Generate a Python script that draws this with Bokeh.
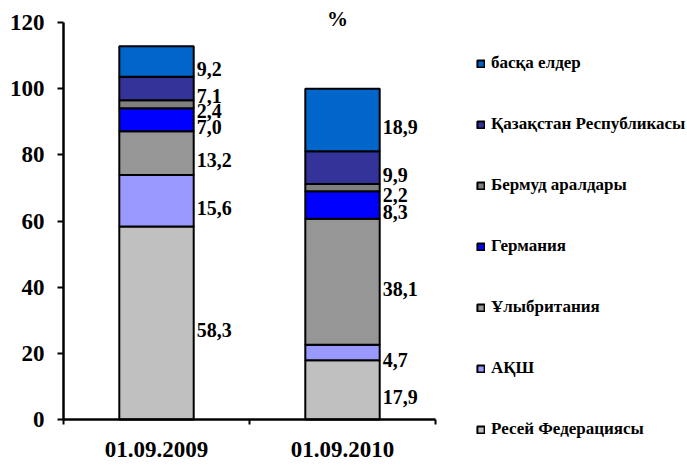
from bokeh.plotting import figure
from bokeh.models import (ColumnDataSource, Range1d, FixedTicker, Legend, LegendItem, Label)
from bokeh.embed import file_html
from bokeh.resources import INLINE

categories = ["01.09.2009", "01.09.2010"]
series = ["Ресей Федерациясы", "АҚШ", "Ұлыбритания", "Германия",
          "Бермуд аралдары", "Қазақстан Республикасы", "басқа елдер"]
values = {
    "Ресей Федерациясы": [58.3, 17.9],
    "АҚШ": [15.6, 4.7],
    "Ұлыбритания": [13.2, 38.1],
    "Германия": [7.0, 8.3],
    "Бермуд аралдары": [2.4, 2.2],
    "Қазақстан Республикасы": [7.1, 9.9],
    "басқа елдер": [9.2, 18.9],
}
colors = ["#C0C0C0", "#9999FF", "#969696", "#0000FF", "#808080", "#333399", "#0066CC"]
y_ticks = [0, 20, 40, 60, 80, 100, 120]
title_text = "%"

FONT = "Liberation Serif"
BAR_W = 0.4
W, H = 687, 465
X0_PX, CAT_PX = 63, 186          # pixel of x=0 and pixels per category
Y0_PX, PX_PER_UNIT = 419, 397 / 120  # pixel of y=0 and pixels per unit
Y_MAX = 120

xs = [i + 0.5 for i in range(len(categories))]
data = {"x": xs}
keys = [f"s{i}" for i in range(len(series))]
for k, s in zip(keys, series):
    data[k] = values[s]
source = ColumnDataSource(data)

p = figure(width=W, height=H, output_backend="svg", toolbar_location=None,
           x_range=Range1d(-X0_PX / CAT_PX, (W - X0_PX) / CAT_PX),
           y_range=Range1d(-(H - Y0_PX) / PX_PER_UNIT, Y0_PX / PX_PER_UNIT),
           min_border=0)
p.outline_line_color = None
p.xgrid.visible = False
p.ygrid.visible = False
p.background_fill_color = "white"

renderers = p.vbar_stack(keys, x="x", width=BAR_W, color=colors,
                         line_color="black", line_width=2, source=source)

# data labels
lx, ly, lt = [], [], []
for ci, x in enumerate(xs):
    base = 0.0
    for s in series:
        v = values[s][ci]
        lx.append(x + BAR_W / 2)
        ly.append(base + v / 2)
        lt.append(f"{v:.1f}".replace(".", ","))
        base += v
lab_src = ColumnDataSource(dict(x=lx, y=ly, t=lt))
p.text(x="x", y="y", text="t", source=lab_src, x_offset=3, y_offset=7,
       text_align="left", text_baseline="middle", text_font=FONT,
       text_font_style="bold", text_font_size="20px", text_color="black")

# axes
xa = p.xaxis[0]
xa.fixed_location = 0
xa.bounds = (0, len(categories))
xa.ticker = FixedTicker(ticks=xs, minor_ticks=list(range(len(categories) + 1)))
xa.major_label_overrides = {x: c for x, c in zip(xs, categories)}
xa.major_tick_out = 0
xa.major_tick_in = 0
xa.minor_tick_out = 5
xa.minor_tick_in = 0
xa.minor_tick_line_color = "black"
xa.minor_tick_line_width = 2
xa.axis_line_width = 2.5
xa.axis_line_color = "black"
xa.major_label_standoff = 17
xa.major_label_text_font = FONT
xa.major_label_text_font_style = "bold"
xa.major_label_text_font_size = "23px"
xa.major_label_text_color = "black"

ya = p.yaxis[0]
ya.fixed_location = 0
ya.ticker = FixedTicker(ticks=y_ticks)
ya.bounds = (0, Y_MAX)
ya.major_tick_out = 6
ya.major_tick_in = 0
ya.minor_tick_out = 0
ya.minor_tick_in = 0
ya.major_tick_line_width = 2
ya.major_tick_line_color = "black"
ya.axis_line_width = 2.5
ya.axis_line_color = "black"
ya.major_label_standoff = 13
ya.major_label_text_font = FONT
ya.major_label_text_font_style = "bold"
ya.major_label_text_font_size = "23px"
ya.major_label_text_color = "black"

p.add_layout(Label(x=1.473, y=121.2, text=title_text, text_align="center",
                   text_baseline="middle", text_font=FONT, text_font_style="bold",
                   text_font_size="21px", text_color="black"))

# legend
items = [LegendItem(label=s, renderers=[r]) for s, r in zip(series, renderers)][::-1]
legend = Legend(items=items, location=(476, 26), orientation="vertical",
                glyph_width=9, glyph_height=9, label_standoff=6,
                label_height=20, spacing=41, padding=0, margin=0,
                border_line_color=None, background_fill_alpha=0,
                label_text_font=FONT, label_text_font_style="bold",
                label_text_font_size="17px", label_text_color="black")
p.add_layout(legend)

open("out.html", "w").write(file_html(p, INLINE))
